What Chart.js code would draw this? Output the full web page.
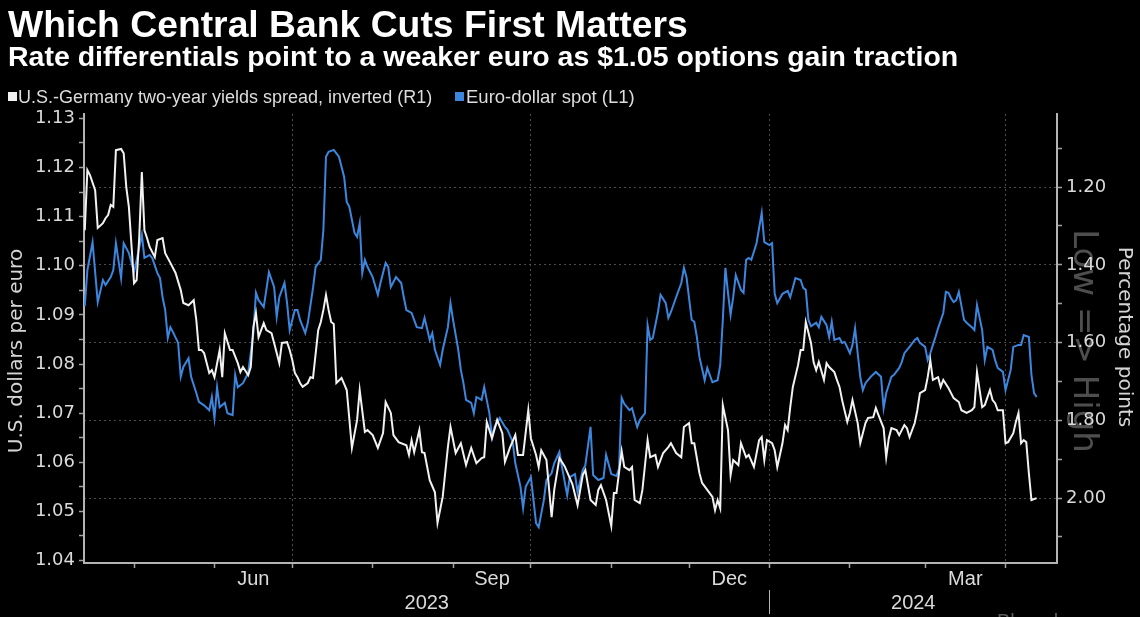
<!DOCTYPE html>
<html><head><meta charset="utf-8">
<script src="https://cdn.jsdelivr.net/npm/chart.js@4.4.1/dist/chart.umd.min.js"></script>
<style>
html,body{margin:0;padding:0;background:#000;}
body{width:1140px;height:617px;position:relative;overflow:hidden;font-family:"Liberation Sans",Arial,sans-serif;}
#wrap{position:absolute;left:0;top:0;width:1140px;height:617px;}
canvas{display:block;background:#000;}
.t{position:absolute;white-space:nowrap;color:#fff;line-height:1;font-weight:bold;}
#title{left:8px;top:6px;font-size:37.3px;}
#subtitle{left:8px;top:42px;font-size:28.5px;}
.leg{position:absolute;top:88px;font-size:18px;color:#dcdcdc;line-height:1;white-space:nowrap;}
.sw{position:absolute;width:9px;height:9px;top:92px;}
#src{position:absolute;left:997px;top:611px;font-size:20px;line-height:1;color:#5a5a5a;white-space:nowrap;}
</style></head>
<body>
<div id="wrap"><canvas id="c" width="1140" height="617"></canvas></div>
<div class="t" id="title">Which Central Bank Cuts First Matters</div>
<div class="t" id="subtitle">Rate differentials point to a weaker euro as $1.05 options gain traction</div>
<div class="sw" style="left:8px;background:#f2f2f2"></div>
<div class="leg" id="leg1" style="left:18px">U.S.-Germany two-year yields spread, inverted (R1)</div>
<div class="sw" style="left:455px;background:#3d86de"></div>
<div class="leg" id="leg2" style="left:466px;font-size:18.5px">Euro-dollar spot (L1)</div>
<div id="src">Bloomberg</div>
<script>
// ---------------- data ----------------
const spreadDates = ['2023-04-12','2023-04-13','2023-04-14','2023-04-16','2023-04-17','2023-04-19','2023-04-20','2023-04-21','2023-04-22','2023-04-23','2023-04-24','2023-04-26','2023-04-27','2023-04-28','2023-04-29','2023-05-01','2023-05-02','2023-05-03','2023-05-04','2023-05-05','2023-05-06','2023-05-07','2023-05-09','2023-05-10','2023-05-12','2023-05-13','2023-05-15','2023-05-17','2023-05-19','2023-05-20','2023-05-22','2023-05-24','2023-05-25','2023-05-26','2023-05-27','2023-05-28','2023-05-30','2023-05-31','2023-06-01','2023-06-03','2023-06-04','2023-06-05','2023-06-07','2023-06-08','2023-06-10','2023-06-11','2023-06-12','2023-06-14','2023-06-15','2023-06-16','2023-06-17','2023-06-18','2023-06-20','2023-06-21','2023-06-23','2023-06-24','2023-06-25','2023-06-26','2023-06-27','2023-06-29','2023-06-30','2023-07-01','2023-07-02','2023-07-03','2023-07-04','2023-07-05','2023-07-07','2023-07-08','2023-07-09','2023-07-11','2023-07-12','2023-07-13','2023-07-14','2023-07-15','2023-07-16','2023-07-17','2023-07-18','2023-07-20','2023-07-22','2023-07-24','2023-07-26','2023-07-27','2023-07-29','2023-07-30','2023-08-01','2023-08-03','2023-08-05','2023-08-06','2023-08-08','2023-08-09','2023-08-11','2023-08-14','2023-08-15','2023-08-16','2023-08-17','2023-08-19','2023-08-20','2023-08-21','2023-08-23','2023-08-25','2023-08-26','2023-08-28','2023-08-30','2023-08-31','2023-09-02','2023-09-04','2023-09-06','2023-09-08','2023-09-10','2023-09-12','2023-09-13','2023-09-14','2023-09-16','2023-09-18','2023-09-20','2023-09-21','2023-09-23','2023-09-25','2023-09-26','2023-09-28','2023-09-30','2023-10-01','2023-10-03','2023-10-04','2023-10-05','2023-10-07','2023-10-09','2023-10-10','2023-10-12','2023-10-14','2023-10-15','2023-10-17','2023-10-19','2023-10-21','2023-10-22','2023-10-24','2023-10-26','2023-10-27','2023-10-28','2023-10-30','2023-11-01','2023-11-02','2023-11-03','2023-11-05','2023-11-06','2023-11-08','2023-11-09','2023-11-10','2023-11-12','2023-11-13','2023-11-15','2023-11-16','2023-11-18','2023-11-19','2023-11-21','2023-11-23','2023-11-24','2023-11-26','2023-11-28','2023-11-29','2023-12-01','2023-12-02','2023-12-03','2023-12-05','2023-12-06','2023-12-08','2023-12-10','2023-12-11','2023-12-12','2023-12-13','2023-12-14','2023-12-16','2023-12-17','2023-12-18','2023-12-20','2023-12-21','2023-12-23','2023-12-24','2023-12-26','2023-12-28','2023-12-29','2023-12-30','2023-12-31','2024-01-02','2024-01-03','2024-01-04','2024-01-06','2024-01-07','2024-01-08','2024-01-09','2024-01-10','2024-01-12','2024-01-13','2024-01-14','2024-01-15','2024-01-17','2024-01-18','2024-01-19','2024-01-20','2024-01-22','2024-01-23','2024-01-24','2024-01-26','2024-01-27','2024-01-28','2024-01-29','2024-01-31','2024-02-01','2024-02-02','2024-02-04','2024-02-05','2024-02-07','2024-02-08','2024-02-10','2024-02-11','2024-02-12','2024-02-14','2024-02-15','2024-02-16','2024-02-17','2024-02-19','2024-02-20','2024-02-22','2024-02-23','2024-02-24','2024-02-26','2024-02-27','2024-02-28','2024-03-01','2024-03-02','2024-03-03','2024-03-04','2024-03-06','2024-03-07','2024-03-08','2024-03-10','2024-03-11','2024-03-12','2024-03-14','2024-03-15','2024-03-17','2024-03-19','2024-03-20','2024-03-21','2024-03-23','2024-03-24','2024-03-26','2024-03-27','2024-03-28','2024-03-29','2024-03-31','2024-04-01','2024-04-02','2024-04-04','2024-04-05','2024-04-06','2024-04-07','2024-04-08','2024-04-09','2024-04-10','2024-04-11','2024-04-13'];
const spreadValues = [1.311,1.156,1.169,1.208,1.305,1.293,1.280,1.272,1.246,1.251,1.105,1.102,1.113,1.200,1.251,1.447,1.439,1.329,1.161,1.311,1.331,1.354,1.380,1.336,1.331,1.370,1.395,1.421,1.465,1.498,1.504,1.491,1.542,1.619,1.619,1.627,1.678,1.671,1.689,1.619,1.689,1.576,1.619,1.619,1.653,1.676,1.663,1.684,1.663,1.560,1.524,1.586,1.550,1.568,1.576,1.601,1.627,1.653,1.601,1.599,1.619,1.645,1.678,1.689,1.704,1.714,1.704,1.689,1.691,1.568,1.547,1.516,1.478,1.516,1.547,1.552,1.704,1.691,1.722,1.871,1.799,1.722,1.830,1.825,1.838,1.871,1.833,1.753,1.781,1.838,1.856,1.864,1.889,1.851,1.882,1.825,1.882,1.884,1.954,1.985,2.064,1.997,1.869,1.817,1.884,1.859,1.915,1.871,1.910,1.897,1.895,1.804,1.846,1.799,1.833,1.907,1.869,1.838,1.889,1.889,1.774,1.846,1.889,1.920,1.877,1.902,2.049,1.979,1.897,1.918,1.933,1.964,2.018,1.941,1.928,2.005,2.018,1.979,1.967,2.005,2.072,1.987,1.987,1.879,1.920,1.928,1.920,2.005,2.013,1.979,1.851,1.895,1.889,1.920,1.884,1.869,1.859,1.884,1.895,1.817,1.807,1.859,1.859,1.936,1.961,1.979,1.997,2.031,2.005,2.026,1.761,1.825,1.941,1.902,1.915,1.859,1.895,1.889,1.920,1.851,1.843,1.902,1.851,1.859,1.877,1.920,1.859,1.812,1.825,1.766,1.714,1.658,1.619,1.619,1.547,1.601,1.650,1.671,1.650,1.696,1.653,1.663,1.676,1.696,1.714,1.748,1.804,1.781,1.748,1.807,1.859,1.807,1.794,1.792,1.768,1.786,1.820,1.895,1.846,1.820,1.825,1.838,1.812,1.820,1.843,1.807,1.774,1.730,1.722,1.689,1.645,1.696,1.689,1.714,1.696,1.717,1.730,1.743,1.753,1.774,1.781,1.774,1.766,1.676,1.766,1.761,1.722,1.748,1.756,1.774,1.774,1.859,1.856,1.833,1.804,1.781,1.859,1.851,1.856,1.936,2.005,2.000];

const eurDates = ['2023-04-12','2023-04-13','2023-04-15','2023-04-17','2023-04-19','2023-04-20','2023-04-22','2023-04-23','2023-04-24','2023-04-26','2023-04-27','2023-04-28','2023-04-29','2023-05-01','2023-05-02','2023-05-04','2023-05-05','2023-05-07','2023-05-08','2023-05-10','2023-05-11','2023-05-12','2023-05-13','2023-05-14','2023-05-15','2023-05-16','2023-05-18','2023-05-19','2023-05-20','2023-05-22','2023-05-23','2023-05-25','2023-05-26','2023-05-28','2023-05-30','2023-05-31','2023-06-01','2023-06-02','2023-06-03','2023-06-05','2023-06-06','2023-06-08','2023-06-09','2023-06-10','2023-06-12','2023-06-14','2023-06-16','2023-06-17','2023-06-18','2023-06-20','2023-06-21','2023-06-22','2023-06-24','2023-06-25','2023-06-26','2023-06-28','2023-06-29','2023-06-30','2023-07-02','2023-07-03','2023-07-04','2023-07-06','2023-07-07','2023-07-09','2023-07-10','2023-07-12','2023-07-13','2023-07-14','2023-07-15','2023-07-17','2023-07-19','2023-07-21','2023-07-22','2023-07-23','2023-07-25','2023-07-26','2023-07-27','2023-07-28','2023-07-29','2023-07-30','2023-08-01','2023-08-03','2023-08-04','2023-08-06','2023-08-07','2023-08-08','2023-08-10','2023-08-12','2023-08-13','2023-08-14','2023-08-16','2023-08-18','2023-08-20','2023-08-21','2023-08-23','2023-08-24','2023-08-25','2023-08-27','2023-08-28','2023-08-30','2023-08-31','2023-09-01','2023-09-03','2023-09-04','2023-09-05','2023-09-06','2023-09-08','2023-09-09','2023-09-10','2023-09-12','2023-09-13','2023-09-15','2023-09-16','2023-09-17','2023-09-19','2023-09-21','2023-09-22','2023-09-24','2023-09-25','2023-09-27','2023-09-28','2023-09-29','2023-10-01','2023-10-02','2023-10-03','2023-10-04','2023-10-06','2023-10-07','2023-10-09','2023-10-10','2023-10-12','2023-10-13','2023-10-15','2023-10-16','2023-10-18','2023-10-19','2023-10-21','2023-10-22','2023-10-24','2023-10-25','2023-10-27','2023-10-29','2023-10-30','2023-11-01','2023-11-03','2023-11-04','2023-11-05','2023-11-06','2023-11-08','2023-11-09','2023-11-11','2023-11-12','2023-11-14','2023-11-15','2023-11-16','2023-11-17','2023-11-19','2023-11-20','2023-11-22','2023-11-23','2023-11-24','2023-11-26','2023-11-28','2023-11-29','2023-11-30','2023-12-02','2023-12-03','2023-12-04','2023-12-05','2023-12-07','2023-12-08','2023-12-10','2023-12-12','2023-12-13','2023-12-14','2023-12-15','2023-12-16','2023-12-17','2023-12-18','2023-12-19','2023-12-21','2023-12-22','2023-12-23','2023-12-24','2023-12-25','2023-12-27','2023-12-29','2023-12-30','2024-01-01','2024-01-02','2024-01-03','2024-01-04','2024-01-06','2024-01-08','2024-01-09','2024-01-11','2024-01-13','2024-01-14','2024-01-15','2024-01-16','2024-01-17','2024-01-19','2024-01-20','2024-01-21','2024-01-23','2024-01-24','2024-01-25','2024-01-26','2024-01-28','2024-01-29','2024-01-30','2024-02-01','2024-02-02','2024-02-03','2024-02-04','2024-02-05','2024-02-06','2024-02-07','2024-02-09','2024-02-11','2024-02-13','2024-02-14','2024-02-15','2024-02-17','2024-02-18','2024-02-20','2024-02-21','2024-02-22','2024-02-24','2024-02-26','2024-02-27','2024-02-28','2024-03-01','2024-03-02','2024-03-03','2024-03-04','2024-03-05','2024-03-06','2024-03-08','2024-03-09','2024-03-10','2024-03-11','2024-03-12','2024-03-13','2024-03-14','2024-03-16','2024-03-17','2024-03-19','2024-03-20','2024-03-21','2024-03-23','2024-03-24','2024-03-25','2024-03-27','2024-03-28','2024-03-29','2024-03-31','2024-04-01','2024-04-03','2024-04-04','2024-04-06','2024-04-07','2024-04-08','2024-04-10','2024-04-11','2024-04-12','2024-04-13'];
const eurValues = [1.0918,1.0991,1.1048,1.0926,1.0971,1.0961,1.0977,1.0991,1.1046,1.0975,1.1046,1.1036,1.1026,1.0987,1.1012,1.1063,1.1016,1.1022,1.1016,1.0985,1.0975,1.0936,1.0910,1.0853,1.0875,1.0865,1.0843,1.0774,1.0794,1.0812,1.0774,1.0741,1.0723,1.0716,1.0706,1.0733,1.0690,1.0753,1.0712,1.0721,1.0700,1.0696,1.0778,1.0753,1.0761,1.0782,1.0863,1.0945,1.0930,1.0916,1.0951,1.0987,1.0957,1.0896,1.0936,1.0965,1.0924,1.0869,1.0910,1.0910,1.0890,1.0863,1.0884,1.0955,1.0998,1.1012,1.1073,1.1222,1.1232,1.1236,1.1222,1.1181,1.1130,1.1120,1.1067,1.1059,1.1087,1.0985,1.1012,1.0998,1.0977,1.0941,1.0965,1.1006,1.0998,1.0957,1.0977,1.0965,1.0936,1.0910,1.0904,1.0875,1.0873,1.0894,1.0849,1.0863,1.0829,1.0798,1.0829,1.0875,1.0924,1.0890,1.0829,1.0788,1.0761,1.0727,1.0721,1.0700,1.0733,1.0727,1.0753,1.0700,1.0651,1.0672,1.0690,1.0672,1.0666,1.0641,1.0598,1.0550,1.0507,1.0550,1.0570,1.0523,1.0476,1.0468,1.0523,1.0564,1.0578,1.0598,1.0621,1.0590,1.0533,1.0570,1.0576,1.0539,1.0584,1.0594,1.0672,1.0574,1.0564,1.0568,1.0615,1.0576,1.0572,1.0588,1.0731,1.0719,1.0706,1.0710,1.0672,1.0686,1.0700,1.0879,1.0849,1.0853,1.0906,1.0941,1.0924,1.0894,1.0906,1.0936,1.0965,1.0996,1.0977,1.0890,1.0886,1.0855,1.0814,1.0767,1.0792,1.0763,1.0767,1.0798,1.0890,1.0996,1.0945,1.0900,1.0936,1.0981,1.0951,1.0945,1.1012,1.1016,1.1012,1.1046,1.1108,1.1048,1.1042,1.1046,1.0943,1.0924,1.0943,1.0949,1.0936,1.0975,1.0971,1.0955,1.0951,1.0890,1.0877,1.0884,1.0875,1.0896,1.0879,1.0855,1.0886,1.0849,1.0853,1.0843,1.0845,1.0822,1.0839,1.0873,1.0822,1.0774,1.0747,1.0761,1.0774,1.0784,1.0774,1.0710,1.0741,1.0774,1.0778,1.0792,1.0804,1.0822,1.0835,1.0849,1.0853,1.0843,1.0835,1.0808,1.0822,1.0839,1.0855,1.0873,1.0904,1.0947,1.0945,1.0934,1.0926,1.0930,1.0947,1.0890,1.0884,1.0875,1.0869,1.0920,1.0869,1.0808,1.0835,1.0829,1.0808,1.0792,1.0784,1.0747,1.0788,1.0835,1.0839,1.0839,1.0859,1.0855,1.0778,1.0741,1.0733];

const leftTickLabels = ['1.04','1.05','1.06','1.07','1.08','1.09','1.10','1.11','1.12','1.13'];
const rightTickLabels = ['1.20','1.40','1.60','1.80','2.00'];
const monthTickDates = ['2023-05-01','2023-06-01','2023-07-01','2023-08-01','2023-09-01','2023-10-01','2023-11-01','2023-12-01','2024-01-01','2024-02-01','2024-03-01','2024-04-01'];
const monthLabels = ['Jun','Sep','Dec','Mar'];
const monthLabelDates = ['2023-06-01','2023-09-01','2023-12-01','2024-03-01'];
const yearLabels = ['2023','2024'];
const yearBreakDate = '2024-01-01';
const leftTitle = 'U.S. dollars per euro';
const rightTitle = 'Percentage points';
const watermark = 'Low => High';

// ---------------- helpers ----------------
const BASE = Date.UTC(2023, 3, 1);
const day = s => (Date.parse(s + 'T00:00:00Z') - BASE) / 864e5;
const nextMonth = s => { const d = new Date(s + 'T00:00:00Z'); d.setUTCMonth(d.getUTCMonth() + 1); return d.toISOString().slice(0, 10); };
const quarterMonths = [0, 3, 6, 9];
const isQuarterStart = v => { const d = new Date(BASE + v * 864e5); return d.getUTCDate() === 1 && quarterMonths.includes(d.getUTCMonth()); };

const leftMajor = leftTickLabels.map(Number);
const leftTicks = [];
leftMajor.forEach((v, i) => { leftTicks.push(v); if (i < leftMajor.length - 1) leftTicks.push((v + leftMajor[i + 1]) / 2); });
const rightMajor = rightTickLabels.map(Number);
const rStep = (rightMajor[1] - rightMajor[0]) / 2;
const rightTicks = [rightMajor[0] - rStep];
rightMajor.forEach((v, i) => { rightTicks.push(v); rightTicks.push(v + rStep); });
const near = (a, b) => Math.abs(a - b) < 1e-9;

const GRID = '#4c4c4c', AXIS = '#b4b4b4', TICK = '#a0a0a0', LABEL = '#dadada';
const TICKFONT = { family: "'DejaVu Sans', sans-serif", size: 18 };

const decor = {
  id: 'decor',
  beforeDraw(chart) {
    const ctx = chart.ctx;
    ctx.save();
    ctx.translate(1083, 341);
    ctx.rotate(Math.PI / 2);
    ctx.font = "34px 'DejaVu Sans', sans-serif";
    ctx.fillStyle = '#4e4e4e';
    ctx.textAlign = 'center';
    ctx.textBaseline = 'middle';
    ctx.fillText(watermark, 0, 0);
    ctx.restore();
  },
  afterDraw(chart) {
    const ctx = chart.ctx, xs = chart.scales.x, area = chart.chartArea;
    ctx.save();
    ctx.fillStyle = LABEL;
    ctx.textAlign = 'center';
    ctx.textBaseline = 'middle';
    ctx.font = "20px 'Liberation Sans', Arial, sans-serif";
    monthLabels.forEach((m, i) => {
      const a = xs.getPixelForValue(day(monthLabelDates[i]));
      const b = xs.getPixelForValue(day(nextMonth(monthLabelDates[i])));
      ctx.fillText(m, (a + b) / 2, 579);
    });
    const brk = xs.getPixelForValue(day(yearBreakDate));
    ctx.fillText(yearLabels[0], (area.left + brk) / 2, 603);
    ctx.fillText(yearLabels[1], (brk + area.right) / 2, 603);
    ctx.strokeStyle = AXIS;
    ctx.lineWidth = 1;
    ctx.beginPath();
    ctx.moveTo(Math.round(brk) + 0.5, 590);
    ctx.lineTo(Math.round(brk) + 0.5, 614);
    ctx.stroke();
    // axis titles
    ctx.font = "20px 'DejaVu Sans', sans-serif";
    ctx.fillStyle = '#d4d4d4';
    ctx.save();
    ctx.translate(17, 351);
    ctx.rotate(-Math.PI / 2);
    ctx.fillText(leftTitle, 0, 0);
    ctx.restore();
    ctx.save();
    ctx.translate(1124, 337);
    ctx.rotate(Math.PI / 2);
    ctx.fillText(rightTitle, 0, 0);
    ctx.restore();
    ctx.restore();
  }
};

new Chart(document.getElementById('c'), {
  type: 'line',
  data: {
    datasets: [
      {
        label: 'U.S.-Germany two-year yields spread, inverted (R1)',
        data: spreadDates.map((d, i) => ({ x: day(d), y: spreadValues[i] })),
        yAxisID: 'y1', borderColor: '#f2f2f2', borderWidth: 2, pointRadius: 0, tension: 0, order: 0
      },
      {
        label: 'Euro-dollar spot (L1)',
        data: eurDates.map((d, i) => ({ x: day(d), y: eurValues[i] })),
        yAxisID: 'y', borderColor: '#3d86de', borderWidth: 2, pointRadius: 0, tension: 0, order: 1
      }
    ]
  },
  options: {
    responsive: false,
    animation: false,
    devicePixelRatio: 1,
    parsing: false,
    layout: { padding: { top: 114, left: 0, right: 0, bottom: 0 } },
    plugins: { legend: { display: false }, tooltip: { enabled: false }, title: { display: false } },
    scales: {
      x: {
        type: 'linear', position: 'bottom', min: 10.7, max: 385.85,
        afterBuildTicks: s => { s.ticks = monthTickDates.map(d => ({ value: day(d) })); },
        afterFit: s => { s.height = 54; },
        ticks: { display: false },
        grid: {
          color: c => (c.tick && isQuarterStart(c.tick.value)) ? GRID : 'rgba(0,0,0,0)',
          lineWidth: 1, tickLength: 5, tickColor: TICK, tickWidth: 1.5, drawTicks: true
        },
        border: { color: AXIS, width: 2, dash: [2, 3] }
      },
      y: {
        type: 'linear', position: 'left', min: 1.0395, max: 1.1309,
        afterBuildTicks: s => { s.ticks = leftTicks.map(v => ({ value: v })); },
        afterFit: s => { s.width = 84; },
        ticks: {
          color: LABEL, font: TICKFONT, padding: 4, autoSkip: false,
          callback: v => { const i = leftMajor.findIndex(m => near(m, v)); return i >= 0 ? leftTickLabels[i] : ''; }
        },
        grid: { drawOnChartArea: false, tickLength: 5, tickColor: TICK, tickWidth: 1.5 },
        border: { color: AXIS, width: 2 }
      },
      y1: {
        type: 'linear', position: 'right', reverse: true, min: 1.012, max: 2.167,
        afterBuildTicks: s => { s.ticks = rightTicks.map(v => ({ value: v })); },
        afterFit: s => { s.width = 83; },
        ticks: {
          color: LABEL, font: TICKFONT, padding: 4, autoSkip: false,
          callback: v => { const i = rightMajor.findIndex(m => near(m, v)); return i >= 0 ? rightTickLabels[i] : ''; }
        },
        grid: {
          drawOnChartArea: true,
          color: c => (c.tick && rightMajor.some(m => near(m, c.tick.value))) ? GRID : 'rgba(0,0,0,0)',
          lineWidth: 1, tickLength: 5, tickColor: TICK, tickWidth: 1.5
        },
        border: { color: AXIS, width: 2, dash: [2, 3] }
      }
    }
  },
  plugins: [decor]
});
</script>
</body></html>
